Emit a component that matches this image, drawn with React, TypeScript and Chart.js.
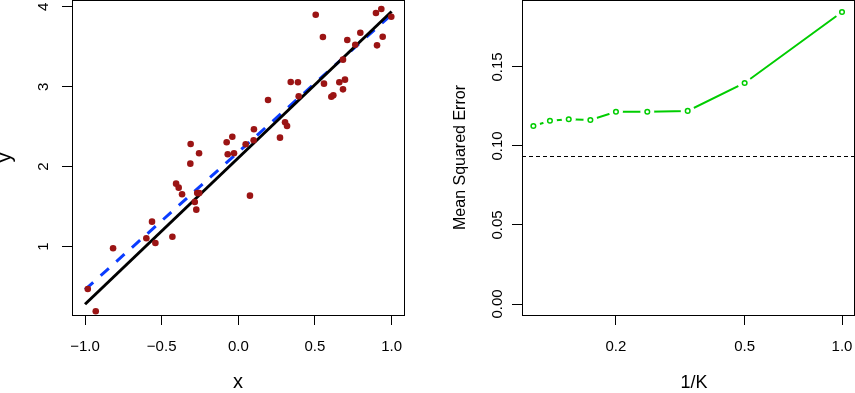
import React, { useEffect, useRef } from "react";
import { Chart, registerables } from "chart.js";

Chart.register(...registerables);

// ---------- Left panel: data ----------
const X_VALS = [
  -0.982, -0.93, -0.817, -0.6, -0.563, -0.541, -0.43, -0.406, -0.389, -0.367,
  -0.313, -0.311, -0.256, -0.284, -0.274, -0.268, -0.255, -0.076, -0.039, -0.069,
  -0.028, 0.048, 0.102, 0.1, 0.076, 0.272, 0.305, 0.318, 0.194, 0.505,
  0.552, 0.342, 0.389, 0.394, 0.559, 0.659, 0.696, 0.683, 0.607, 0.62,
  0.683, 0.711, 0.763, 0.796, 0.898, 0.933, 0.998, 0.942, 0.905,
];
const Y_VALS = [
  0.471, 0.192, 0.98, 1.105, 1.313, 1.046, 1.125, 1.788, 1.738, 1.655,
  2.038, 2.284, 2.168, 1.559, 1.463, 1.67, 1.67, 2.305, 2.375, 2.155,
  2.168, 2.28, 2.468, 2.33, 1.638, 2.363, 2.555, 2.509, 2.834, 3.9,
  3.621, 3.059, 3.055, 2.88, 3.038, 3.055, 3.088, 2.967, 2.875, 2.892,
  3.338, 3.584, 3.525, 3.675, 3.921, 3.971, 3.875, 3.625, 3.517,
];
const TRUE_LINE_X = [-1, 1];
const TRUE_LINE_Y = [0.28, 3.94];
const LS_LINE_X = [-1, 1];
const LS_LINE_Y = [0.463, 3.903];
const LEFT_X_TICKS = [-1, -0.5, 0, 0.5, 1];
const LEFT_X_TICK_LABELS = ["\u22121.0", "\u22120.5", "0.0", "0.5", "1.0"];
const LEFT_Y_TICKS = [1, 2, 3, 4];
const LEFT_Y_TICK_LABELS = ["1", "2", "3", "4"];
const LEFT_X_RANGE = [-1.085, 1.081];
const LEFT_Y_RANGE = [0.146, 4.084];

// ---------- Right panel: data ----------
const INV_K = [1, 0.5, 0.3333, 0.25, 0.2, 0.1667, 0.1429, 0.125, 0.1111];
const KNN_MSE = [0.1848, 0.1399, 0.1222, 0.1217, 0.1217, 0.1165, 0.1169, 0.116, 0.1127];
const LS_MSE = 0.0939;
const RIGHT_X_TICKS = [0.2, 0.5, 1.0];
const RIGHT_X_TICK_LABELS = ["0.2", "0.5", "1.0"];
const RIGHT_Y_TICKS = [0, 0.05, 0.1, 0.15];
const RIGHT_Y_TICK_LABELS = ["0.00", "0.05", "0.10", "0.15"];
const RIGHT_X_RANGE = [0.10245, 1.0891];
const RIGHT_Y_RANGE = [-0.00696, 0.1924];

const FONT = "'Liberation Sans', Arial, Helvetica, sans-serif";
const RED = "#9b1414";
const BLUE = "#0a3cff";
const GREEN = "#00cd00";

function drawText(
  ctx: CanvasRenderingContext2D,
  text: string,
  x: number,
  y: number,
  size: number,
  rotate: boolean
) {
  ctx.save();
  ctx.translate(x, y);
  if (rotate) ctx.rotate(-Math.PI / 2);
  ctx.font = `${size}px ${FONT}`;
  ctx.fillStyle = "#000";
  ctx.textAlign = "center";
  ctx.textBaseline = "alphabetic";
  ctx.fillText(text, 0, 0);
  ctx.restore();
}

function drawBox(chart: any) {
  const { ctx, chartArea: a } = chart;
  ctx.save();
  ctx.strokeStyle = "#000";
  ctx.lineWidth = 1;
  ctx.setLineDash([]);
  ctx.strokeRect(a.left + 0.5, a.top + 0.5, a.right - a.left, a.bottom - a.top);
  ctx.restore();
}

function noPad(s: any) {
  s.paddingLeft = 0;
  s.paddingRight = 0;
  s.paddingTop = 0;
  s.paddingBottom = 0;
}

const gridOpts = {
  drawOnChartArea: false,
  drawTicks: true,
  tickLength: 10,
  color: "#000",
  lineWidth: 1,
};

function xyPoints(xs: number[], ys: number[]) {
  return xs.map((x, i) => ({ x, y: ys[i] }));
}

function leftConfig(): any {
  const textPlugin = {
    id: "leftText",
    afterDraw(chart: any) {
      drawBox(chart);
      const { ctx, chartArea: a } = chart;
      const ys = chart.scales.y;
      LEFT_Y_TICKS.forEach((v, i) => {
        drawText(ctx, LEFT_Y_TICK_LABELS[i], 48.3, ys.getPixelForValue(v), 15, true);
      });
      drawText(ctx, "x", (a.left + a.right) / 2, 388, 20, false);
      drawText(ctx, "y", 10.5, (a.top + a.bottom) / 2, 20, true);
    },
  };
  return {
    type: "scatter",
    data: {
      datasets: [
        {
          label: "observations",
          data: xyPoints(X_VALS, Y_VALS),
          pointRadius: 3.3,
          pointBackgroundColor: RED,
          pointBorderWidth: 0,
          order: 0,
        },
        {
          label: "true f",
          data: xyPoints(TRUE_LINE_X, TRUE_LINE_Y),
          showLine: true,
          borderColor: "#000",
          borderWidth: 3,
          pointRadius: 0,
          order: 1,
        },
        {
          label: "least squares",
          data: xyPoints(LS_LINE_X, LS_LINE_Y),
          showLine: true,
          borderColor: BLUE,
          borderWidth: 3,
          borderDash: [11, 10],
          pointRadius: 0,
          order: 2,
        },
      ],
    },
    options: {
      animation: false,
      responsive: false,
      maintainAspectRatio: false,
      devicePixelRatio: 1,
      layout: { autoPadding: false, padding: { left: 0, right: 23, top: 0, bottom: 0 } },
      plugins: { legend: { display: false }, tooltip: { enabled: false } },
      events: [],
      scales: {
        x: {
          type: "linear",
          min: LEFT_X_RANGE[0],
          max: LEFT_X_RANGE[1],
          afterBuildTicks: (s: any) => {
            s.ticks = LEFT_X_TICKS.map((v) => ({ value: v }));
          },
          afterFit: (s: any) => {
            s.height = 78;
            noPad(s);
          },
          grid: gridOpts,
          border: { display: false },
          ticks: {
            callback: (_v: any, i: number) => LEFT_X_TICK_LABELS[i],
            font: { family: FONT, size: 15 },
            color: "#000",
            padding: 13,
            maxRotation: 0,
            minRotation: 0,
            autoSkip: false,
          },
        },
        y: {
          type: "linear",
          min: LEFT_Y_RANGE[0],
          max: LEFT_Y_RANGE[1],
          afterBuildTicks: (s: any) => {
            s.ticks = LEFT_Y_TICKS.map((v) => ({ value: v }));
          },
          afterFit: (s: any) => {
            s.width = 72;
            noPad(s);
          },
          grid: gridOpts,
          border: { display: false },
          ticks: { display: false },
        },
      },
    },
    plugins: [textPlugin],
  };
}

function rightConfig(): any {
  const pts = xyPoints(INV_K, KNN_MSE);
  const textPlugin = {
    id: "rightText",
    beforeDatasetsDraw(chart: any) {
      const { ctx, chartArea: a } = chart;
      const y = Math.round(chart.scales.y.getPixelForValue(LS_MSE)) + 0.5;
      ctx.save();
      ctx.beginPath();
      ctx.setLineDash([4, 3]);
      ctx.lineWidth = 1;
      ctx.strokeStyle = "#000";
      ctx.moveTo(a.left, y);
      ctx.lineTo(a.right, y);
      ctx.stroke();
      ctx.restore();
    },
    afterDraw(chart: any) {
      drawBox(chart);
      const { ctx, chartArea: a } = chart;
      const ys = chart.scales.y;
      RIGHT_Y_TICKS.forEach((v, i) => {
        drawText(ctx, RIGHT_Y_TICK_LABELS[i], 74.7, ys.getPixelForValue(v), 15, true);
      });
      drawText(ctx, "1/K", (a.left + a.right) / 2 + 6, 388, 18, false);
      drawText(ctx, "Mean Squared Error", 38, (a.top + a.bottom) / 2, 16, true);
    },
  };
  return {
    type: "scatter",
    data: {
      datasets: [
        {
          label: "KNN line",
          data: pts,
          showLine: true,
          borderColor: GREEN,
          borderWidth: 2,
          pointRadius: 0,
          order: 3,
        },
        {
          label: "gaps",
          data: pts,
          pointRadius: 7,
          pointBackgroundColor: "#ffffff",
          pointBorderWidth: 0,
          order: 2,
        },
        {
          label: "KNN MSE",
          data: pts,
          pointRadius: 2.3,
          pointBackgroundColor: "#ffffff",
          pointBorderColor: GREEN,
          pointBorderWidth: 1.5,
          order: 1,
        },
      ],
    },
    options: {
      animation: false,
      responsive: false,
      maintainAspectRatio: false,
      devicePixelRatio: 1,
      layout: { autoPadding: false, padding: { left: 0, right: 1, top: 0, bottom: 0 } },
      plugins: { legend: { display: false }, tooltip: { enabled: false } },
      events: [],
      scales: {
        x: {
          type: "logarithmic",
          min: RIGHT_X_RANGE[0],
          max: RIGHT_X_RANGE[1],
          afterBuildTicks: (s: any) => {
            s.ticks = RIGHT_X_TICKS.map((v) => ({ value: v }));
          },
          afterFit: (s: any) => {
            s.height = 78;
            noPad(s);
          },
          grid: gridOpts,
          border: { display: false },
          ticks: {
            callback: (_v: any, i: number) => RIGHT_X_TICK_LABELS[i],
            font: { family: FONT, size: 15 },
            color: "#000",
            padding: 13,
            maxRotation: 0,
            minRotation: 0,
            autoSkip: false,
          },
        },
        y: {
          type: "linear",
          min: RIGHT_Y_RANGE[0],
          max: RIGHT_Y_RANGE[1],
          afterBuildTicks: (s: any) => {
            s.ticks = RIGHT_Y_TICKS.map((v) => ({ value: v }));
          },
          afterFit: (s: any) => {
            s.width = 95;
            noPad(s);
          },
          grid: gridOpts,
          border: { display: false },
          ticks: { display: false },
        },
      },
    },
    plugins: [textPlugin],
  };
}

export default function App() {
  const leftRef = useRef<HTMLCanvasElement>(null);
  const rightRef = useRef<HTMLCanvasElement>(null);

  useEffect(() => {
    const left = new Chart(leftRef.current as HTMLCanvasElement, leftConfig());
    const right = new Chart(rightRef.current as HTMLCanvasElement, rightConfig());
    return () => {
      left.destroy();
      right.destroy();
    };
  }, []);

  return (
    <div
      style={{
        position: "absolute",
        left: 0,
        top: 0,
        width: 855,
        height: 393,
        background: "#fff",
      }}
    >
      <canvas
        ref={leftRef}
        width={427}
        height={393}
        style={{ position: "absolute", left: 0, top: 0, width: 427, height: 393 }}
      />
      <canvas
        ref={rightRef}
        width={428}
        height={393}
        style={{ position: "absolute", left: 427, top: 0, width: 428, height: 393 }}
      />
    </div>
  );
}
